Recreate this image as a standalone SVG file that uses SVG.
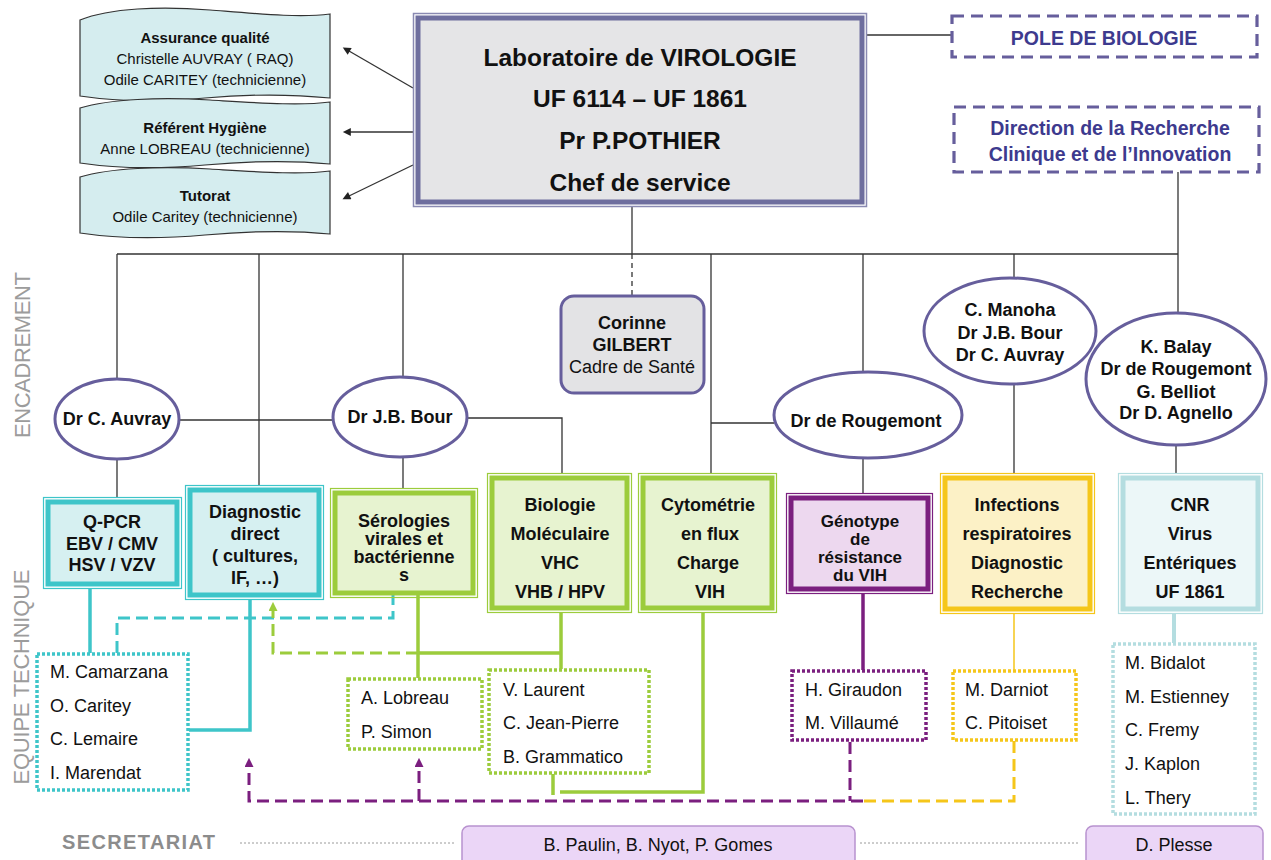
<svg xmlns="http://www.w3.org/2000/svg" width="1271" height="860" viewBox="0 0 1271 860">
<style>
text{font-family:"Liberation Sans",Arial,Helvetica,sans-serif;fill:#111}
.b{font-weight:bold}
.c{text-anchor:middle}
.ln{stroke:#333;stroke-width:1.3;fill:none}
.ban{fill:#d5edef;stroke:#333;stroke-width:1.2}
.ell{fill:#fff;stroke:#665e9c;stroke-width:3}
.f18{font-size:18px}
.f15{font-size:15px}
.st{font-size:18px}
.side{fill:#9c9c9c;font-size:22px}
.dash{fill:none;stroke:#665e9c;stroke-width:3.2;stroke-dasharray:12 7}
.blue{fill:#3d3a8e}
</style>
<defs>
<marker id="ab" viewBox="0 0 10 10" refX="1" refY="5" markerWidth="10" markerHeight="8" markerUnits="userSpaceOnUse" orient="auto"><path d="M0,0 L10,5 L0,10 z" fill="#222"/></marker>
<marker id="ac" viewBox="0 0 10 10" refX="1" refY="5" markerWidth="9" markerHeight="9" markerUnits="userSpaceOnUse" orient="auto"><path d="M0,0 L10,5 L0,10 z" fill="#3ec5c9"/></marker>
<marker id="ag" viewBox="0 0 10 10" refX="1" refY="5" markerWidth="9" markerHeight="9" markerUnits="userSpaceOnUse" orient="auto"><path d="M0,0 L10,5 L0,10 z" fill="#9ccc3c"/></marker>
<marker id="ap" viewBox="0 0 10 10" refX="1" refY="5" markerWidth="9" markerHeight="9" markerUnits="userSpaceOnUse" orient="auto"><path d="M0,0 L10,5 L0,10 z" fill="#7b1f7f"/></marker>
</defs>

<!-- side labels -->
<text class="side" transform="translate(30,355) rotate(-90)" text-anchor="middle" textLength="166">ENCADREMENT</text>
<text class="side" transform="translate(29,677) rotate(-90)" text-anchor="middle" textLength="215">EQUIPE TECHNIQUE</text>
<text x="62" y="849" class="b" style="fill:#8c8c8c;font-size:20px" textLength="153">SECRETARIAT</text>

<!-- connectors -->
<g id="connectors">
  <path class="ln" d="M117,254 H1178"/>
  <path class="ln" d="M117,254 V379"/>
  <path class="ln" d="M259,254 V485"/>
  <path class="ln" d="M403,254 V377"/>
  <path class="ln" d="M632,207 V254"/>
  <path class="ln" d="M632,254 V296" stroke-dasharray="5 4"/>
  <path class="ln" d="M711,254 V473"/>
  <path class="ln" d="M863,254 V371"/>
  <path class="ln" d="M1014,254 V278"/>
  <path class="ln" d="M1178,172 V313"/>
  <path class="ln" d="M179,420 H333"/>
  <path class="ln" d="M467,418 H562 V473"/>
  <path class="ln" d="M711,423 H774"/>
  <path class="ln" d="M117,459 V497"/>
  <path class="ln" d="M403,456 V488"/>
  <path class="ln" d="M863,458 V493"/>
  <path class="ln" d="M1014,384 V473"/>
  <path class="ln" d="M1176,445 V473"/>
  <path class="ln" d="M866,35 H952"/>
  <path class="ln" d="M413,88 L349,51" marker-end="url(#ab)"/>
  <path class="ln" d="M413,132 L350,132" marker-end="url(#ab)"/>
  <path class="ln" d="M413,165 L349,196" marker-end="url(#ab)"/>
  <!-- technical team -->
  <path d="M90,589 V653" stroke="#3ec5c9" stroke-width="3.5" fill="none"/>
  <path d="M250,600 V730 H189" stroke="#3ec5c9" stroke-width="3.5" fill="none"/>
  <path d="M117,653 V618 H393 V593" stroke="#3ec5c9" stroke-width="3" stroke-dasharray="12 6" fill="none" marker-end="url(#ac)"/>
  <path d="M418,653 H273 V610" stroke="#9ccc3c" stroke-width="3" stroke-dasharray="12 6" fill="none" marker-end="url(#ag)"/>
  <path d="M418,584 V678 M418,653 H561 M561,613 V669 M703,613 V792 H560 M553,774 V795" stroke="#9ccc3c" stroke-width="3.5" fill="none"/>
  <path d="M863,594 V670" stroke="#7b1f7f" stroke-width="3.5" fill="none"/>
  <path d="M850,742 V801 M863,801 H249 V766" stroke="#7b1f7f" stroke-width="3" stroke-dasharray="12 6" fill="none" marker-end="url(#ap)"/>
  <path d="M419,801 V766" stroke="#7b1f7f" stroke-width="3" stroke-dasharray="12 6" fill="none" marker-end="url(#ap)"/>
  <path d="M1014,741 V801 H863" stroke="#f5c61a" stroke-width="3" stroke-dasharray="12 6" fill="none"/>
  <path d="M1014,614 V670" stroke="#f5c61a" stroke-width="1.5" fill="none"/>
  <path d="M1174,614 V643" stroke="#b4dde0" stroke-width="4" fill="none"/>
  <path d="M240,843 H455 M860,843 H1080" stroke="#9a9a9a" stroke-width="1" stroke-dasharray="2 2" fill="none"/>
</g>

<!-- banners -->
<g id="assurance">
  <path class="ban" d="M80,20 C110,8 160,6 210,10 C260,14 300,18 330,14 L330,98 C290,94 250,94 205,98 C160,102 120,102 80,96 Z"/>
  <text x="205" y="43" class="c b f15">Assurance qualité</text>
  <text x="205" y="64" class="c f15">Christelle AUVRAY ( RAQ)</text>
  <text x="205" y="85" class="c f15">Odile CARITEY (technicienne)</text>
</g>
<g id="hygiene">
  <path class="ban" d="M80,108 C110,99 160,97 210,100 C260,103 300,106 330,102 L330,164 C290,160 250,161 205,165 C160,169 120,169 80,163 Z"/>
  <text x="205" y="133" class="c b f15">Référent Hygiène</text>
  <text x="205" y="154" class="c f15">Anne LOBREAU (technicienne)</text>
</g>
<g id="tutorat">
  <path class="ban" d="M80,177 C110,168 160,166 210,169 C260,172 300,175 330,171 L330,234 C290,230 250,231 205,235 C160,239 120,239 80,233 Z"/>
  <text x="205" y="201" class="c b f15">Tutorat</text>
  <text x="205" y="222" class="c f15">Odile Caritey (technicienne)</text>
</g>

<!-- main box -->
<g id="labo">
  <rect x="413.5" y="13.5" width="453" height="193" fill="none" stroke="#8a8ab2" stroke-width="1.5"/>
  <rect x="418" y="18" width="444" height="184" fill="#e5e5e7" stroke="#6e6e9e" stroke-width="5"/>
  <text x="640" y="66" class="c b" font-size="24.5">Laboratoire de VIROLOGIE</text>
  <text x="640" y="107" class="c b" font-size="24.5">UF 6114 – UF 1861</text>
  <text x="640" y="149" class="c b" font-size="24.5">Pr P.POTHIER</text>
  <text x="640" y="191" class="c b" font-size="24.5">Chef de service</text>
</g>

<g id="pole">
  <rect x="952" y="16" width="305" height="41" class="dash"/>
  <text x="1104" y="45" class="c b blue" font-size="19.5">POLE DE BIOLOGIE</text>
</g>
<g id="drci">
  <rect x="954" y="107" width="305" height="65" class="dash"/>
  <text x="1110" y="135" class="c b blue" font-size="19.5">Direction de la Recherche</text>
  <text x="1110" y="161" class="c b blue" font-size="19.5">Clinique et de l’Innovation</text>
</g>

<!-- encadrement -->
<g id="gilbert">
  <rect x="561" y="296" width="143" height="97" rx="13" fill="#e3e3e5" stroke="#665e9c" stroke-width="3"/>
  <text x="632" y="329" class="c b f18">Corinne</text>
  <text x="632" y="351" class="c b f18">GILBERT</text>
  <text x="632" y="373" class="c f18">Cadre de Santé</text>
</g>
<g id="auvray">
  <ellipse cx="117" cy="419" rx="62" ry="40" class="ell"/>
  <text x="117" y="425" class="c b f18">Dr C. Auvray</text>
</g>
<g id="bour">
  <ellipse cx="400" cy="417" rx="67" ry="40" class="ell"/>
  <text x="400" y="423" class="c b f18">Dr J.B. Bour</text>
</g>
<g id="rougemont">
  <ellipse cx="868" cy="415" rx="94" ry="43" class="ell"/>
  <text x="866" y="427" class="c b f18">Dr de Rougemont</text>
</g>
<g id="manoha">
  <ellipse cx="1010" cy="331" rx="86" ry="53" class="ell"/>
  <text x="1010" y="316" class="c b f18">C. Manoha</text>
  <text x="1010" y="339" class="c b f18">Dr J.B. Bour</text>
  <text x="1010" y="361" class="c b f18">Dr C. Auvray</text>
</g>
<g id="balay">
  <ellipse cx="1176" cy="379" rx="90" ry="66" class="ell"/>
  <text x="1176" y="353" class="c b f18">K. Balay</text>
  <text x="1176" y="375" class="c b f18">Dr de Rougemont</text>
  <text x="1176" y="398" class="c b f18">G. Belliot</text>
  <text x="1176" y="419" class="c b f18">Dr D. Agnello</text>
</g>

<!-- technical boxes -->
<g id="qpcr">
  <rect x="43.5" y="497.5" width="138" height="91" fill="none" stroke="#3ec5c9" stroke-width="1.2"/>
  <rect x="48" y="502" width="129" height="82" fill="#d6f0f1" stroke="#3ec5c9" stroke-width="5"/>
  <text x="112" y="528" class="c b f18">Q-PCR</text>
  <text x="112" y="550" class="c b f18">EBV / CMV</text>
  <text x="112" y="571" class="c b f18">HSV / VZV</text>
</g>
<g id="diagnostic">
  <rect x="185.5" y="485.5" width="138" height="114" fill="none" stroke="#3ec5c9" stroke-width="1.2"/>
  <rect x="190" y="490" width="129" height="105" fill="#d6f0f1" stroke="#3ec5c9" stroke-width="5"/>
  <text x="255" y="518" class="c b f18">Diagnostic</text>
  <text x="255" y="540" class="c b f18">direct</text>
  <text x="255" y="562" class="c b f18">( cultures,</text>
  <text x="255" y="584" class="c b f18">IF, …)</text>
</g>
<g id="serologies">
  <rect x="330.5" y="488.5" width="147" height="109" fill="none" stroke="#9ccc3c" stroke-width="1.2"/>
  <rect x="335" y="493" width="138" height="100" fill="#e7f3d0" stroke="#9ccc3c" stroke-width="5"/>
  <text x="404" y="527" class="c b f18">Sérologies</text>
  <text x="404" y="545" class="c b f18">virales et</text>
  <text x="404" y="563" class="c b f18">bactérienne</text>
  <text x="404" y="581" class="c b f18">s</text>
</g>
<g id="biomol">
  <rect x="487.5" y="473.5" width="144" height="139" fill="none" stroke="#9ccc3c" stroke-width="1.2"/>
  <rect x="492" y="478" width="135" height="130" fill="#e7f3d0" stroke="#9ccc3c" stroke-width="5"/>
  <text x="560" y="511" class="c b f18">Biologie</text>
  <text x="560" y="540" class="c b f18">Moléculaire</text>
  <text x="560" y="569" class="c b f18">VHC</text>
  <text x="560" y="598" class="c b f18">VHB / HPV</text>
</g>
<g id="cytometrie">
  <rect x="638.5" y="473.5" width="138" height="139" fill="none" stroke="#9ccc3c" stroke-width="1.2"/>
  <rect x="643" y="478" width="129" height="130" fill="#e7f3d0" stroke="#9ccc3c" stroke-width="5"/>
  <text x="708" y="511" class="c b f18">Cytométrie</text>
  <text x="710" y="540" class="c b f18">en flux</text>
  <text x="708" y="569" class="c b f18">Charge</text>
  <text x="710" y="598" class="c b f18">VIH</text>
</g>
<g id="genotype">
  <rect x="786.5" y="493.5" width="146" height="100" fill="none" stroke="#7b1f7f" stroke-width="1.2"/>
  <rect x="791" y="498" width="137" height="91" fill="#edd8ef" stroke="#7b1f7f" stroke-width="5"/>
  <text x="860" y="527" class="c b" font-size="17">Génotype</text>
  <text x="860" y="545" class="c b" font-size="17">de</text>
  <text x="860" y="563" class="c b" font-size="17">résistance</text>
  <text x="860" y="581" class="c b" font-size="17">du VIH</text>
</g>
<g id="infections">
  <rect x="940.5" y="473.5" width="154" height="140" fill="none" stroke="#f5c61a" stroke-width="1.2"/>
  <rect x="945" y="478" width="145" height="131" fill="#fcf1c6" stroke="#f5c61a" stroke-width="5"/>
  <text x="1017" y="511" class="c b f18">Infections</text>
  <text x="1017" y="540" class="c b f18">respiratoires</text>
  <text x="1017" y="569" class="c b f18">Diagnostic</text>
  <text x="1017" y="598" class="c b f18">Recherche</text>
</g>
<g id="cnr">
  <rect x="1118.5" y="473.5" width="144" height="140" fill="none" stroke="#b4dde0" stroke-width="1.2"/>
  <rect x="1123" y="478" width="135" height="131" fill="#ecf7f8" stroke="#b4dde0" stroke-width="5"/>
  <text x="1190" y="511" class="c b f18">CNR</text>
  <text x="1190" y="540" class="c b f18">Virus</text>
  <text x="1190" y="569" class="c b f18">Entériques</text>
  <text x="1190" y="598" class="c b f18">UF 1861</text>
</g>

<!-- staff boxes -->
<g id="staff-cyan">
  <rect x="37" y="654" width="151" height="136" fill="none" stroke="#3ec5c9" stroke-width="3.5" stroke-dasharray="3 2"/>
  <text x="50" y="678" class="st">M. Camarzana</text>
  <text x="50" y="712" class="st">O. Caritey</text>
  <text x="50" y="745" class="st">C. Lemaire</text>
  <text x="50" y="779" class="st">I. Marendat</text>
</g>
<g id="staff-sero">
  <rect x="348" y="679" width="134" height="70" fill="none" stroke="#9ccc3c" stroke-width="3.5" stroke-dasharray="3 2"/>
  <text x="361" y="704" class="st">A. Lobreau</text>
  <text x="361" y="738" class="st">P. Simon</text>
</g>
<g id="staff-biomol">
  <rect x="489" y="670" width="160" height="103" fill="none" stroke="#9ccc3c" stroke-width="3.5" stroke-dasharray="3 2"/>
  <text x="503" y="696" class="st">V. Laurent</text>
  <text x="503" y="729" class="st">C. Jean-Pierre</text>
  <text x="503" y="763" class="st">B. Grammatico</text>
</g>
<g id="staff-geno">
  <rect x="792" y="671" width="134" height="69" fill="none" stroke="#7b1f7f" stroke-width="3.5" stroke-dasharray="3 2"/>
  <text x="805" y="696" class="st">H. Giraudon</text>
  <text x="805" y="729" class="st">M. Villaumé</text>
</g>
<g id="staff-resp">
  <rect x="953" y="671" width="123" height="69" fill="none" stroke="#f5c61a" stroke-width="3.5" stroke-dasharray="3 2"/>
  <text x="965" y="696" class="st">M. Darniot</text>
  <text x="965" y="729" class="st">C. Pitoiset</text>
</g>
<g id="staff-cnr">
  <rect x="1113" y="644" width="142" height="170" fill="none" stroke="#b4dde0" stroke-width="3.5" stroke-dasharray="3 2"/>
  <text x="1125" y="669" class="st">M. Bidalot</text>
  <text x="1125" y="703" class="st">M. Estienney</text>
  <text x="1125" y="736" class="st">C. Fremy</text>
  <text x="1125" y="770" class="st">J. Kaplon</text>
  <text x="1125" y="804" class="st">L. Thery</text>
</g>

<!-- secretariat -->
<g id="secr1">
  <rect x="462" y="826" width="393" height="42" rx="7" fill="#ebd6f7" stroke="#b892cf" stroke-width="1.5"/>
  <text x="658" y="851" class="c" font-size="18">B. Paulin, B. Nyot, P. Gomes</text>
</g>
<g id="secr2">
  <rect x="1086" y="826" width="177" height="42" rx="7" fill="#ebd6f7" stroke="#b892cf" stroke-width="1.5"/>
  <text x="1174" y="851" class="c" font-size="18">D. Plesse</text>
</g>
</svg>
